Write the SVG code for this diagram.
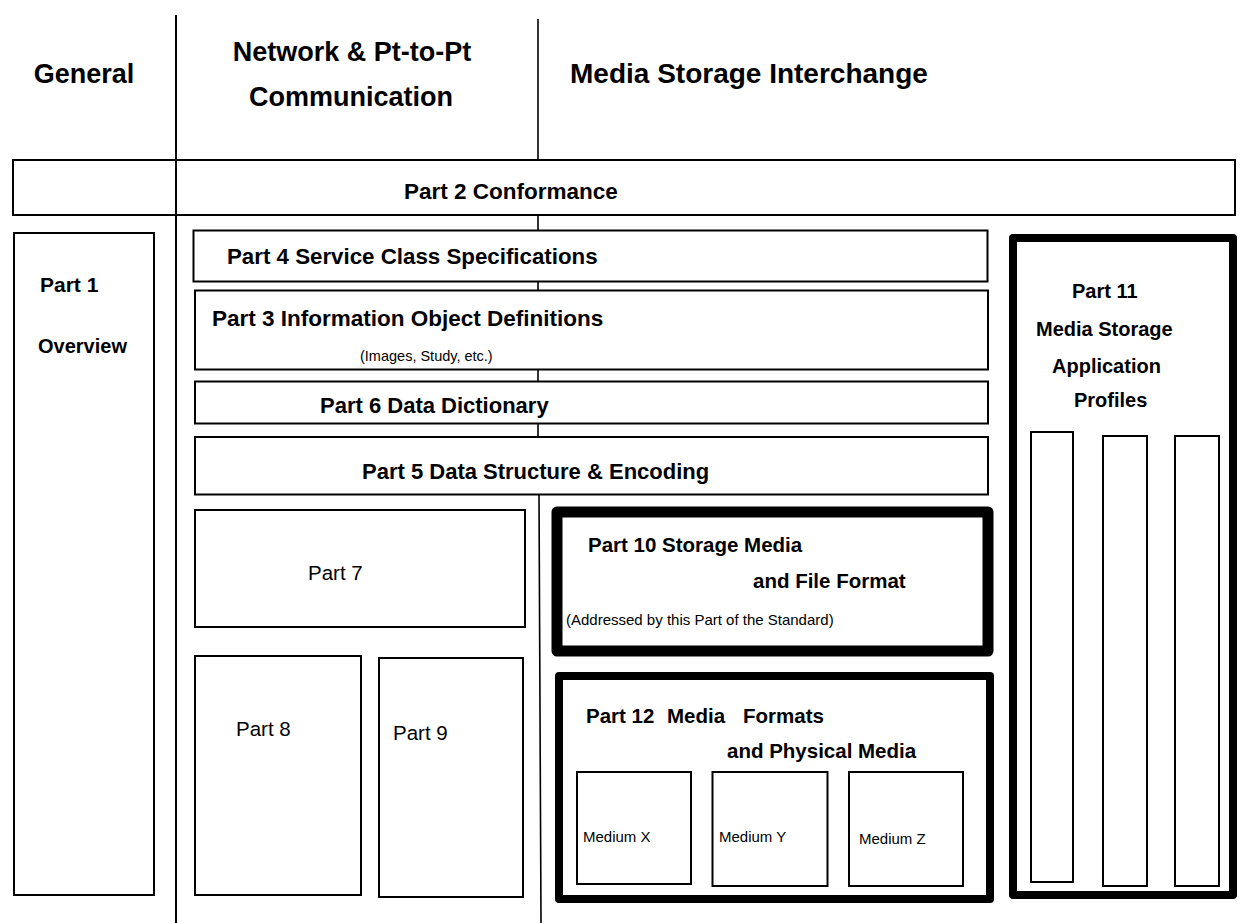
<svg xmlns="http://www.w3.org/2000/svg" width="1248" height="923" viewBox="0 0 1248 923">
<style>
text{font-family:"Liberation Sans",Arial,Helvetica,sans-serif;fill:#000}
.h{font-weight:bold;font-size:27px}
.b{font-weight:bold;font-size:22px}
.m{font-weight:bold;font-size:20.5px}
.r{font-size:20.5px}
.s{font-size:14.5px}
.t{font-size:15px}
.box{fill:#fff;stroke:#000;stroke-width:2}
.thick{fill:#fff;stroke:#000;stroke-linejoin:round}
.ln{stroke:#000;fill:none}
</style>
<rect width="1248" height="923" fill="#fff"/>
<g id="headings">
<text class="h" x="84" y="83" text-anchor="middle">General</text>
<text class="h" x="352" y="61" text-anchor="middle">Network &amp; Pt-to-Pt</text>
<text class="h" x="351" y="106" text-anchor="middle">Communication</text>
<text class="h" x="570" y="83" style="font-size:28px">Media Storage Interchange</text>
</g>
<g id="dividers">
<path class="ln" stroke-width="1.6" d="M538,19 L538,495 M539,495 L541,923"/>
</g>
<g id="part2"><rect class="box" x="13" y="160" width="1222" height="55"/><text class="b" x="404" y="199" style="font-size:22.5px">Part 2 Conformance</text></g>
<g id="divider-general"><line class="ln" stroke-width="2" x1="176" y1="15" x2="176" y2="923"/></g>
<g id="part1"><rect class="box" x="14" y="233" width="140" height="662"/><text class="b" x="40" y="292" style="font-size:21px">Part 1</text><text class="b" x="38" y="353" style="font-size:20px">Overview</text></g>
<g id="part4"><rect class="box" x="193.5" y="230.5" width="794" height="51"/><text class="b" x="227" y="264" style="font-size:22.3px">Part 4 Service Class Specifications</text></g>
<g id="part3"><rect class="box" x="195" y="290.5" width="793" height="79"/><text class="b" x="212" y="326" style="font-size:22.5px">Part 3 Information Object Definitions</text><text class="s" x="360" y="361">(Images, Study, etc.)</text></g>
<g id="part6"><rect class="box" x="195" y="381.5" width="793" height="42"/><text class="b" x="320" y="413">Part 6 Data Dictionary</text></g>
<g id="part5"><rect class="box" x="195" y="437" width="793" height="57.5"/><text class="b" x="362" y="479">Part 5 Data Structure &amp; Encoding</text></g>
<g id="part7"><rect class="box" x="195" y="510" width="330" height="117"/><text class="r" x="308" y="580">Part 7</text></g>
<g id="part8"><rect class="box" x="195" y="656" width="166" height="239"/><text class="r" x="236" y="736">Part 8</text></g>
<g id="part9"><rect class="box" x="379" y="658" width="144" height="239"/><text class="r" x="393" y="740">Part 9</text></g>
<g id="part10"><rect class="thick" stroke-width="11" x="557" y="512" width="431" height="139"/><text class="m" x="588" y="552">Part 10 Storage Media</text><text class="m" x="753" y="588">and File Format</text><text class="t" x="566" y="625">(Addressed by this Part of the Standard)</text></g>
<g id="part12"><rect class="thick" stroke-width="8" x="559" y="676" width="431" height="223"/><text class="m" y="723"><tspan x="586">Part 12</tspan><tspan x="667">Media</tspan><tspan x="743">Formats</tspan></text><text class="m" x="727" y="758">and Physical Media</text></g>
<g id="mediumX"><rect class="box" x="577" y="772" width="114" height="112"/><text class="t" x="583" y="842">Medium X</text></g>
<g id="mediumY"><rect class="box" x="712.5" y="772" width="115" height="114"/><text class="t" x="719" y="842">Medium Y</text></g>
<g id="mediumZ"><rect class="box" x="849" y="772" width="114" height="114"/><text class="t" x="859" y="844">Medium Z</text></g>
<g id="part11"><rect class="thick" stroke-width="8" x="1013" y="238" width="220" height="657"/><text class="m" x="1072" y="298" style="font-size:20px">Part 11</text><text class="m" x="1036" y="336" style="font-size:20px">Media Storage</text><text class="m" x="1052" y="373" style="font-size:20px">Application</text><text class="m" x="1074" y="407" style="font-size:20px">Profiles</text></g>
<g id="profile1"><rect class="box" x="1031" y="432" width="42" height="450"/></g>
<g id="profile2"><rect class="box" x="1103" y="436" width="44" height="450"/></g>
<g id="profile3"><rect class="box" x="1175" y="436" width="44" height="450"/></g>
</svg>
